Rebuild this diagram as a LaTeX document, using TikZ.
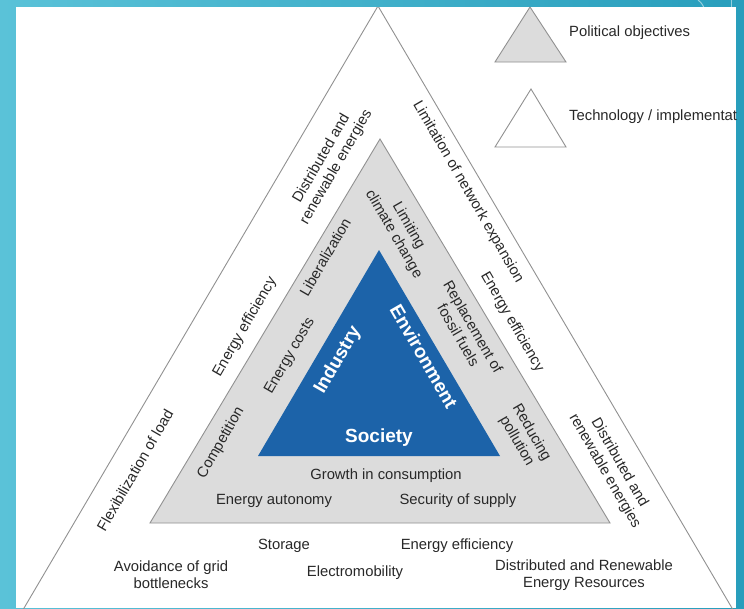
\documentclass[tikz,border=0pt]{standalone}
\usepackage{fontspec}
\setmainfont{Liberation Sans}
\usetikzlibrary{positioning}
\pgfdeclarelayer{background}
\pgfdeclarelayer{foreground}
\pgfsetlayers{background,main,foreground}
\definecolor{slidelight}{RGB}{90,194,216}
\definecolor{slidedark}{RGB}{40,158,188}
\definecolor{coreblue}{RGB}{28,99,169}
\definecolor{policygray}{RGB}{220,220,220}
\definecolor{rimgray}{RGB}{145,145,145}
\definecolor{textgray}{RGB}{40,40,40}

\begin{document}
\begin{tikzpicture}[x=1pt,y=-1pt,
						sidetext/.style={font=\fontsize{14.8}{17}\selectfont, align=center, inner sep=0pt, text=textgray},
						coretext/.style={font=\fontsize{19}{21}\selectfont\bfseries, inner sep=0pt, text=white},
						rim/.style={draw=rimgray, line width=0.9pt, line join=miter},
						]
						\useasboundingbox (0,0) rectangle (744,608);
						%Slide
						\shade[left color=slidelight, right color=slidedark] (0,0) rectangle (744,608);
						\draw[white, opacity=0.5, line width=1pt] (698,0) .. controls (706,6) and (706,14) .. (702,22);
						\draw[white, opacity=0.5, line width=1pt] (731,0) -- (731,7);
						\fill[white] (16,7) rectangle (736,608);

						%Corners
						\coordinate (oA) at (378,6);
						\coordinate (oL) at (17,620);
						\coordinate (oR) at (739,620);
						\coordinate (pA) at (380,139);
						\coordinate (pL) at (150,523);
						\coordinate (pR) at (610,523);
						\coordinate (cA) at (379,250);
						\coordinate (cL) at (258,456);
						\coordinate (cR) at (500,456);
						\coordinate (kA) at (530,7);
						\coordinate (kL) at (495,62);
						\coordinate (kR) at (566,62);
						\coordinate (tA) at (531,89);
						\coordinate (tL) at (495,147);
						\coordinate (tR) at (566,147);

						\begin{scope}
						\clip (16,7) rectangle (736,608);
						%Triangles
						\draw[rim] (oL) -- (oA) -- (oR);
						\filldraw[rim, fill=policygray] (pA) -- (pL) -- (pR) -- cycle;
						\fill[coreblue] (cA) -- (cL) -- (cR) -- cycle;
						\filldraw[rim, fill=policygray] (kA) -- (kL) -- (kR) -- cycle;
						\draw[rim] (tA) -- (tL) -- (tR) -- cycle;

						%Legend
						\node[sidetext, anchor=west] (political) at (569,33) {Political objectives};
						\node[sidetext, anchor=west] (technology) at (569,117) {Technology / implementation};
						\end{scope}

						%Core
						\node[coretext, rotate=60]  (industry)    at (338,360) {Industry};
						\node[coretext, rotate=-60] (environment) at (424,356) {Environment};
						\node[coretext]             (society)     at (379,438) {Society};

						%Political objectives
						\node[sidetext, rotate=60]  (liberal)     at (325,257) {Liberalization};
						\node[sidetext, rotate=60]  (costs)       at (290,356) {Energy costs};
						\node[sidetext, rotate=60]  (competition) at (221,443) {Competition};
						\node[sidetext, rotate=-60] (climate)     at (401,230) {Limiting\\climate change};
						\node[sidetext, rotate=-60] (fossil)      at (466,331) {Replacement of\\fossil fuels};
						\node[sidetext, rotate=-60] (pollution)   at (524,437) {Reducing\\pollution};
						\node[sidetext]             (growth)      at (386,476) {Growth in consumption};
						\node[sidetext]             (autonomy)    at (274,501) {Energy autonomy};
						\node[sidetext]             (security)    at (458,501) {Security of supply};

						%Technology / implementation
						\node[sidetext, rotate=60]  (renewL)      at (329,163) {Distributed and\\renewable energies};
						\node[sidetext, rotate=60]  (efficiencyL) at (245,327) {Energy efficiency};
						\node[sidetext, rotate=60]  (flexible)    at (135,470) {Flexibilization of load};
						\node[sidetext, rotate=-60] (network)     at (468,192) {Limitation of network expansion};
						\node[sidetext, rotate=-60] (efficiencyR) at (512,322) {Energy efficiency};
						\node[sidetext, rotate=-60] (renewR)      at (612,467) {Distributed and\\renewable energies};
						\node[sidetext]             (storage)     at (284,546) {Storage};
						\node[sidetext]             (efficiencyB) at (457,546) {Energy efficiency};
						\node[sidetext]             (bottleneck)  at (171,575) {Avoidance of grid\\bottlenecks};
						\node[sidetext]             (mobility)    at (355,573) {Electromobility};
						\node[sidetext]             (resources)   at (584,575) {Distributed and Renewable\\Energy Resources};
					\end{tikzpicture}
\end{document}
